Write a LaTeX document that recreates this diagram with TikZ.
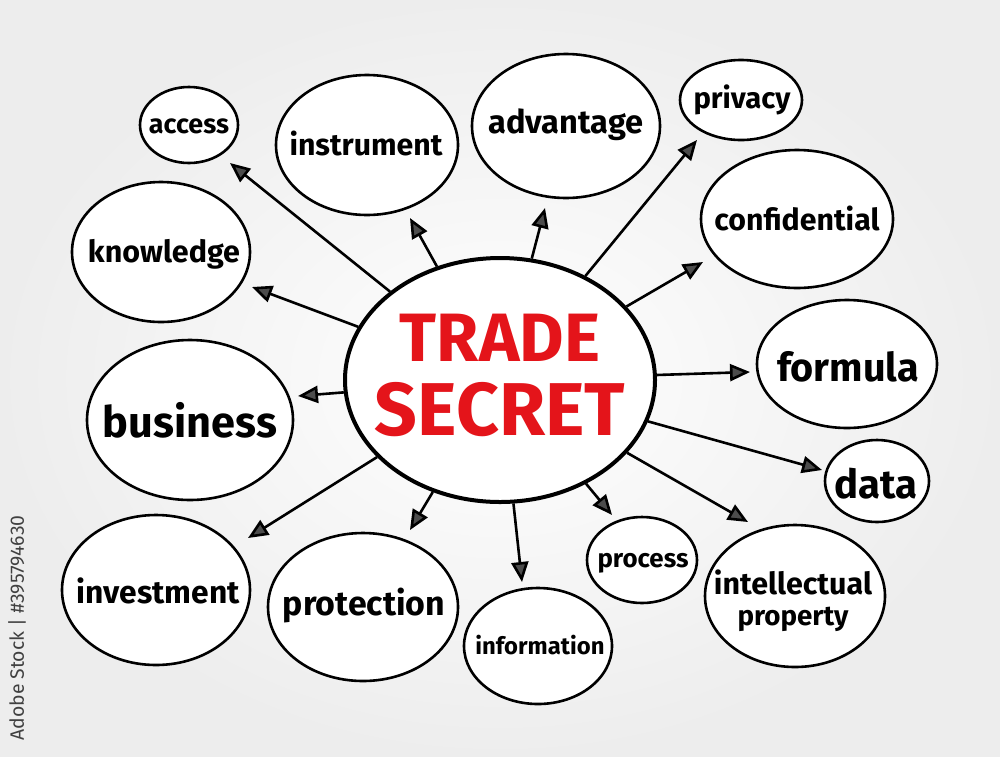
\documentclass[tikz,border=0pt]{standalone}
\usepackage{fontspec}
\setmainfont{Fira Sans}
\usetikzlibrary{shapes.geometric,arrows.meta}
\newcommand{\fw}[2]{\resizebox{#1pt}{!}{#2}}
\definecolor{tsred}{RGB}{228,20,26}
\begin{document}
\begin{tikzpicture}[x=1pt,y=-1pt,
  bub/.style={ellipse, draw=black, line width=2.6pt, fill=white, inner sep=0pt},
  lab/.style={font=\bfseries, inner sep=0pt},
  arr/.style={line width=2.6pt, -{Triangle[length=20pt,width=17pt,fill=black!70]}},
  wm/.style={text=black!75, font=\normalsize}]
\useasboundingbox (0,0) rectangle (1000,756);
\shade[inner color=white, outer color=black!7] (0,0) rectangle (1000,756);

% satellites
\node[bub, minimum width=98pt, minimum height=76pt] (access) at (189,125) {};
\node[lab] (laccess) at (189,126) {\fw{80}{access}};
\node[bub, minimum width=182pt, minimum height=140pt] (instr) at (367,145) {};
\node[lab] (linstr) at (366,143) {\fw{153}{instrument}};
\node[bub, minimum width=188pt, minimum height=144pt] (adv) at (566,126) {};
\node[lab] (ladv) at (566,125) {\fw{155}{advantage}};
\node[bub, minimum width=122pt, minimum height=80pt] (priv) at (741,100) {};
\node[lab] (lpriv) at (742,100) {\fw{97}{privacy}};
\node[bub, minimum width=192pt, minimum height=138pt] (conf) at (797,219) {};
\node[lab] (lconf) at (797,218) {\fw{165}{confidential}};
\node[bub, minimum width=178pt, minimum height=140pt] (know) at (161,252) {};
\node[lab] (lknow) at (164,254) {\fw{152}{knowledge}};
\node[bub, minimum width=180pt, minimum height=128pt] (form) at (847,364) {};
\node[lab] (lform) at (848,367) {\fw{142}{formula}};
\node[bub, minimum width=206pt, minimum height=160pt] (bus) at (190,420) {};
\node[lab] (lbus) at (190,420) {\fw{174}{business}};
\node[bub, minimum width=104pt, minimum height=82pt] (data) at (877,481) {};
\node[lab] (ldata) at (876,484) {\fw{83}{data}};
\node[bub, minimum width=188pt, minimum height=150pt] (inv) at (156,590) {};
\node[lab] (linv) at (158,591) {\fw{163}{investment}};
\node[bub, minimum width=190pt, minimum height=148pt] (prot) at (363,607) {};
\node[lab] (lprot) at (364,606) {\fw{162}{protection}};
\node[bub, minimum width=148pt, minimum height=116pt] (info) at (538,646) {};
\node[lab] (linfo) at (540,645) {\fw{129}{information}};
\node[bub, minimum width=110pt, minimum height=86pt] (proc) at (642,560) {};
\node[lab] (lproc) at (643,563) {\fw{91}{process}};
\node[bub, minimum width=180pt, minimum height=142pt] (ip) at (795,596) {};
\node[lab] (lip1) at (793,582) {\fw{158}{intellectual}};
\node[lab] (lip2) at (793,619) {\fw{111}{property}};

% arrow tips
\coordinate (taccess) at (230,163);
\coordinate (tinstr) at (410,218);
\coordinate (tadv) at (545,208);
\coordinate (tpriv) at (697,140);
\coordinate (tconf) at (703,262);
\coordinate (tknow) at (252,287);
\coordinate (tform) at (750,372);
\coordinate (tbus) at (298,396);
\coordinate (tdata) at (822,470);
\coordinate (tinv) at (248,538);
\coordinate (tprot) at (410,530);
\coordinate (tinfo) at (522,582);
\coordinate (tproc) at (612,515);
\coordinate (tip) at (748,522);

% centre
\node[ellipse, draw=black, line width=4pt, fill=white, inner sep=0pt,
      minimum width=310pt, minimum height=244pt] (c) at (500,380) {};
\node[text=tsred, lab] (t1) at (500,338) {\fw{200}{TRADE}};
\node[text=tsred, lab] (t2) at (500,410) {\fw{250}{SECRET}};

\foreach \t in {taccess,tinstr,tadv,tpriv,tconf,tknow,tform,tbus,tdata,tinv,tprot,tinfo,tproc,tip}
  \draw[arr] (c) -- (\t);

\node[wm, rotate=90] (stock) at (17,628) {\fw{225}{Adobe Stock | \#395794630}};
\end{tikzpicture}
\end{document}
